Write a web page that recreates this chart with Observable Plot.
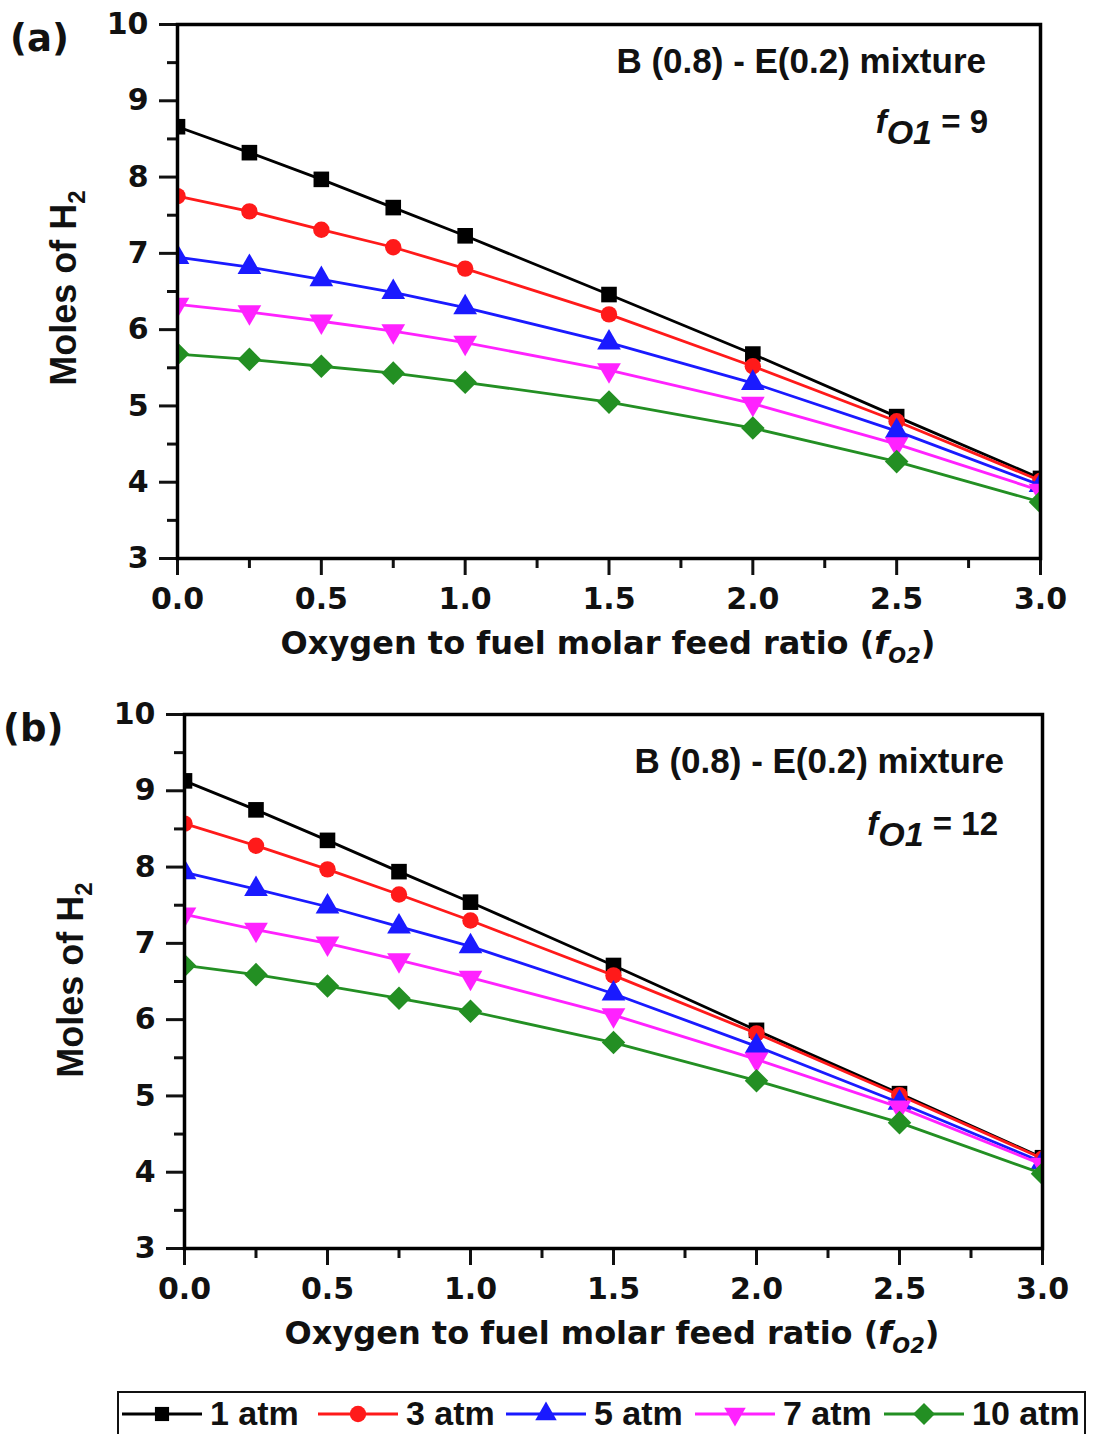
<!DOCTYPE html>
<html>
<head>
<meta charset="utf-8">
<script src="https://cdn.jsdelivr.net/npm/d3@7"></script>
<script src="https://cdn.jsdelivr.net/npm/@observablehq/plot@0.6"></script>
<style>
  html, body { margin: 0; padding: 0; background: #ffffff; }
  #wrap { position: relative; width: 1096px; height: 1434px; background: #ffffff; overflow: hidden; }
  #wrap svg { position: absolute; left: 0; }
</style>
</head>
<body>
<div id="wrap"></div>
<script>
// ---------- data ----------
const xValues = [0, 0.25, 0.5, 0.75, 1.0, 1.5, 2.0, 2.5, 3.0];
const seriesNames = ["1 atm", "3 atm", "5 atm", "7 atm", "10 atm"];

// panel (a): fO1 = 9
const a_1atm  = [8.66, 8.32, 7.97, 7.60, 7.23, 6.46, 5.68, 4.86, 4.05];
const a_3atm  = [7.75, 7.55, 7.31, 7.08, 6.80, 6.20, 5.52, 4.80, 4.02];
const a_5atm  = [6.95, 6.82, 6.66, 6.49, 6.29, 5.83, 5.30, 4.67, 3.96];
const a_7atm  = [6.33, 6.23, 6.11, 5.98, 5.83, 5.47, 5.03, 4.50, 3.89];
const a_10atm = [5.68, 5.61, 5.52, 5.43, 5.31, 5.05, 4.71, 4.27, 3.74];

// panel (b): fO1 = 12
const b_1atm  = [9.13, 8.75, 8.35, 7.94, 7.54, 6.71, 5.86, 5.03, 4.19];
const b_3atm  = [8.57, 8.28, 7.97, 7.64, 7.30, 6.58, 5.82, 5.01, 4.18];
const b_5atm  = [7.93, 7.71, 7.48, 7.22, 6.96, 6.34, 5.65, 4.91, 4.13];
const b_7atm  = [7.38, 7.18, 7.00, 6.78, 6.55, 6.06, 5.48, 4.85, 4.10];
const b_10atm = [6.71, 6.59, 6.44, 6.28, 6.11, 5.70, 5.20, 4.65, 3.98];

const yMajorTicks = [3, 4, 5, 6, 7, 8, 9, 10];
const yMinorTicks = [3.5, 4.5, 5.5, 6.5, 7.5, 8.5, 9.5];
const xMajorTicks = [0, 0.5, 1.0, 1.5, 2.0, 2.5, 3.0];
const xMinorTicks = [0.25, 0.75, 1.25, 1.75, 2.25, 2.75];

// ---------- styles ----------
const colors = ["#000000", "#ff1a1a", "#1a1aff", "#ff22ff", "#238f23"];
const symbolTriangleDown = {
  draw(ctx, size) {
    const y = Math.sqrt(size / (Math.sqrt(3) * 3));
    ctx.moveTo(0, 2 * y);
    ctx.lineTo(-Math.sqrt(3) * y, -y);
    ctx.lineTo(Math.sqrt(3) * y, -y);
    ctx.closePath();
  }
};
const symbolDiamondSq = {
  draw(ctx, size) {
    const h = Math.sqrt(size / 2);
    ctx.moveTo(0, -h);
    ctx.lineTo(h, 0);
    ctx.lineTo(0, h);
    ctx.lineTo(-h, 0);
    ctx.closePath();
  }
};
const symbols = ["square", "circle", "triangle", symbolTriangleDown, symbolDiamondSq];
const radii = [8.8, 8.2, 8.8, 8.8, 9.4];
const FONT = "'Liberation Sans', Arial, Helvetica, sans-serif";
const WIDE = "'DejaVu Sans', 'Liberation Sans', sans-serif";

function makePanel(seriesVals, opt) {
  const marks = [
    Plot.axisY({ticks: yMinorTicks, tickSize: 10, strokeWidth: 3, tickFormat: () => "", label: null}),
    Plot.axisX({ticks: xMinorTicks, tickSize: 10, strokeWidth: 3, tickFormat: () => "", label: null}),
    Plot.axisY({ticks: yMajorTicks, tickSize: 18, tickPadding: 11, strokeWidth: 3, tickFormat: d => String(d),
                fontSize: 30, fontWeight: "bold", fontFamily: WIDE, label: null}),
    Plot.axisX({ticks: xMajorTicks, tickSize: 17, tickPadding: 12, strokeWidth: 3, tickFormat: d3.format(".1f"),
                fontSize: 30, fontWeight: "bold", fontFamily: WIDE, label: null})
  ];
  seriesVals.forEach((vals, k) => {
    const d = xValues.map((x, i) => ({x, y: vals[i], s: seriesNames[k]}));
    marks.push(Plot.line(d, {x: "x", y: "y", stroke: colors[k], strokeWidth: 2.8, clip: true}));
    marks.push(Plot.dot(d, {x: "x", y: "y", symbol: symbols[k], r: radii[k], fill: colors[k], stroke: "none", clip: true}));
  });
  marks.push(Plot.frame({stroke: "#000", strokeWidth: 3.5}));
  const svg = Plot.plot({
    width: 1096,
    height: 690,
    marginLeft: opt.ml,
    marginRight: opt.mr,
    marginTop: 24,
    marginBottom: 132,
    x: {domain: [0, 3]},
    y: {domain: [3, 10]},
    style: {fontFamily: FONT, fontWeight: "bold", color: "#111", background: "transparent", overflow: "visible"},
    marks
  });
  svg.style.top = opt.top + "px";
  const s = d3.select(svg);

  // panel tag
  s.append("text").attr("x", opt.tagX).attr("y", 51).attr("text-anchor", "start")
    .attr("font-family", WIDE).attr("font-weight", "bold")
    .attr("font-size", 37).attr("fill", "#111").text(opt.tag);

  // mixture annotation
  s.append("text").attr("x", opt.annX).attr("y", opt.annY).attr("text-anchor", "end")
    .attr("font-family", FONT).attr("font-weight", "bold").attr("font-size", 35).attr("fill", "#111")
    .text("B (0.8) - E(0.2) mixture");

  // fO1 annotation
  const t = s.append("text").attr("x", opt.fX).attr("y", opt.fY).attr("text-anchor", "end")
    .attr("font-family", FONT).attr("font-weight", "bold").attr("font-size", 33).attr("fill", "#111");
  t.append("tspan").attr("font-style", "italic").attr("font-size", 33).text("f");
  t.append("tspan").attr("font-style", "italic").attr("font-size", 34).attr("dy", 11).text("O1");
  t.append("tspan").attr("dy", -11).text(" = " + opt.fVal);

  // x label
  const xl = s.append("text").attr("x", opt.xlX).attr("y", 654).attr("text-anchor", "middle")
    .attr("font-family", WIDE).attr("font-weight", "bold").attr("font-size", 32).attr("fill", "#111");
  xl.append("tspan").text("Oxygen to fuel molar feed ratio (");
  xl.append("tspan").attr("font-style", "italic").text("f");
  xl.append("tspan").attr("font-style", "italic").attr("font-size", 21).attr("dy", 9).text("O2");
  xl.append("tspan").attr("dy", -9).text(")");

  // y label
  const yl = s.append("text").attr("transform", `translate(${opt.ylX},${opt.ylY}) rotate(-90)`)
    .attr("text-anchor", "middle").attr("font-family", FONT).attr("font-weight", "bold")
    .attr("font-size", 36).attr("fill", "#111");
  yl.append("tspan").text("Moles of H");
  yl.append("tspan").attr("font-size", 24).attr("dy", 9).text("2");

  return svg;
}

const wrap = document.getElementById("wrap");
wrap.appendChild(makePanel([a_1atm, a_3atm, a_5atm, a_7atm, a_10atm], {
  ml: 177, mr: 56, top: 0, tag: "(a)", tagX: 10,
  annX: 986, annY: 73, fX: 988, fY: 133, fVal: "9",
  xlX: 608, ylX: 76, ylY: 288
}));
wrap.appendChild(makePanel([b_1atm, b_3atm, b_5atm, b_7atm, b_10atm], {
  ml: 184, mr: 54, top: 690, tag: "(b)", tagX: 3,
  annX: 1004, annY: 83, fX: 998, fY: 145, fVal: "12",
  xlX: 612, ylX: 83, ylY: 290
}));

// ---------- legend ----------
const leg = d3.create("svg").attr("width", 1096).attr("height", 54).style("top", "1380px");
leg.append("rect").attr("x", 118).attr("y", 12).attr("width", 967).attr("height", 60)
  .attr("fill", "none").attr("stroke", "#111").attr("stroke-width", 2);
const legX = [122, 318, 506, 695, 884];
const symFns = [d3.symbolSquare, d3.symbolCircle, d3.symbolTriangle, symbolTriangleDown, symbolDiamondSq];
const symSizes = [200, 210, 200, 200, 240];
seriesNames.forEach((name, k) => {
  const x0 = legX[k], yc = 1414 - 1380;
  leg.append("line").attr("x1", x0).attr("x2", x0 + 80).attr("y1", yc).attr("y2", yc)
    .attr("stroke", colors[k]).attr("stroke-width", 3);
  leg.append("path").attr("transform", `translate(${x0 + 40},${yc})`)
    .attr("d", d3.symbol(symFns[k], symSizes[k])()).attr("fill", colors[k]);
  leg.append("text").attr("x", x0 + 88).attr("y", yc + 11).attr("font-family", FONT)
    .attr("font-weight", "bold").attr("font-size", 34).attr("fill", "#111").text(name);
});
wrap.appendChild(leg.node());
</script>
</body>
</html>
